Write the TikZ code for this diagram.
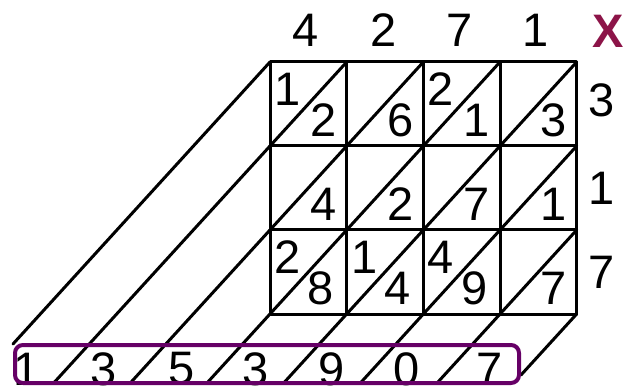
\documentclass[tikz,border=0pt]{standalone}
\usepackage{fontspec}
\setmainfont{Liberation Sans}
\definecolor{xred}{RGB}{140,20,72}
\definecolor{boxpurple}{RGB}{102,0,102}
\begin{document}
\begin{tikzpicture}[x=1pt,y=-1pt,
  gridline/.style={line width=3pt, line cap=round, line join=round},
  dig/.style={inner sep=0pt, font=\fontsize{47}{47}\selectfont},
  answerbox/.style={line width=4pt, draw=boxpurple, rounded corners=8pt}]
\useasboundingbox (0,0) rectangle (634,387);
% grid
\coordinate (g00) at (270,62);
\coordinate (g40) at (576.67,62);
\coordinate (g03) at (270,314);
\coordinate (g43) at (576.67,314);
\draw[gridline] (g00) rectangle (g43);
\foreach \x [count=\i] in {346.67,423.33,500}
  \draw[gridline] (\x,62) coordinate (vt\i) -- (\x,314) coordinate (vb\i);
\foreach \y [count=\i] in {146,230}
  \draw[gridline] (270,\y) coordinate (hl\i) -- (576.67,\y) coordinate (hr\i);
% diagonals
\coordinate (d0a) at (270,62);      \coordinate (d0b) at (13,344);
\coordinate (d1a) at (346.67,62);   \coordinate (d1b) at (53.7,383);
\coordinate (d2a) at (423.33,62);   \coordinate (d2b) at (130.3,383);
\coordinate (d3a) at (500,62);      \coordinate (d3b) at (207,383);
\coordinate (d4a) at (576.67,62);   \coordinate (d4b) at (283.7,383);
\coordinate (d5a) at (576.67,146);  \coordinate (d5b) at (360.4,383);
\coordinate (d6a) at (576.67,230);  \coordinate (d6b) at (437.1,383);
\coordinate (d7a) at (576.67,314);  \coordinate (d7b) at (521,375);
\foreach \k in {0,...,7}
  \draw[gridline] (d\k a) -- (d\k b);
% top factor
\node[dig] (t1) at (306,30) {4};
\node[dig] (t2) at (384,30) {2};
\node[dig] (t3) at (460,30) {7};
\node[dig] (t4) at (536,30) {1};
\node[dig, text=xred, font=\fontsize{47}{47}\selectfont\bfseries] (times) at (608,31) {X};
% side factor
\node[dig] (s1) at (602,100) {3};
\node[dig] (s2) at (602,188) {1};
\node[dig] (s3) at (602,272) {7};
% cell digits: row 1
\node[dig] (c11t) at (288,89) {1};
\node[dig] (c11u) at (324,120) {2};
\node[dig] (c12u) at (401,120) {6};
\node[dig] (c13t) at (441,89) {2};
\node[dig] (c13u) at (477,120) {1};
\node[dig] (c14u) at (554,120) {3};
% row 2
\node[dig] (c21u) at (324,204) {4};
\node[dig] (c22u) at (401,204) {2};
\node[dig] (c23u) at (477,204) {7};
\node[dig] (c24u) at (554,204) {1};
% row 3
\node[dig] (c31t) at (288,257) {2};
\node[dig] (c31u) at (321,288) {8};
\node[dig] (c32t) at (365,257) {1};
\node[dig] (c32u) at (398,288) {4};
\node[dig] (c33t) at (441,257) {4};
\node[dig] (c33u) at (475,288) {9};
\node[dig] (c34u) at (554,288) {7};
% answer digits
\node[dig] (a1) at (27,369) {1};
\node[dig] (a2) at (104,369) {3};
\node[dig] (a3) at (182,369) {5};
\node[dig] (a4) at (256,369) {3};
\node[dig] (a5) at (332,369) {9};
\node[dig] (a6) at (407,369) {0};
\node[dig] (a7) at (490,369) {7};
% answer box
\draw[answerbox] (15,345) rectangle (519,383);
\end{tikzpicture}
\end{document}
